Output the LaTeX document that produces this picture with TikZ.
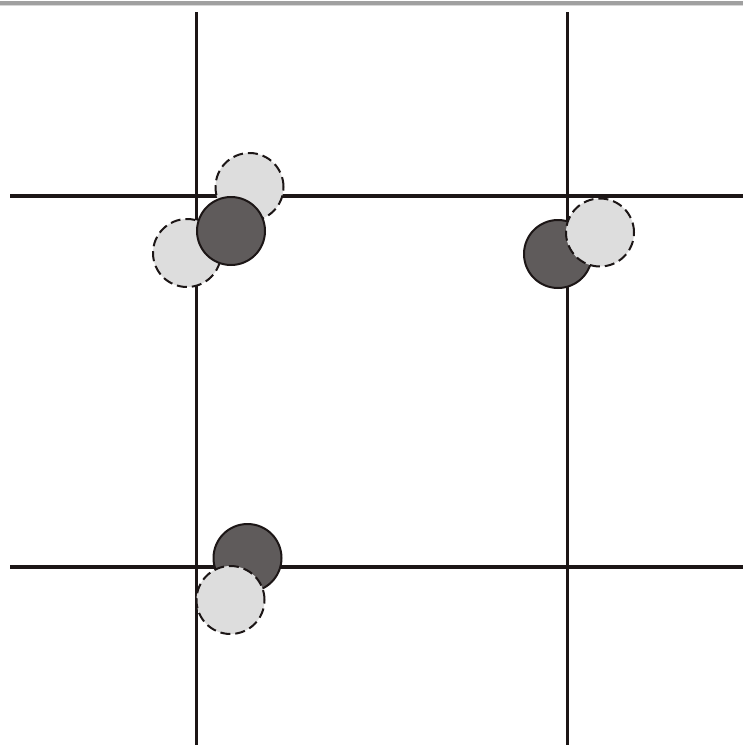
\documentclass[tikz,border=0pt]{standalone}
\definecolor{lineink}{RGB}{28,22,22}
\definecolor{darkfill}{RGB}{95,91,91}
\definecolor{lightfill}{RGB}{221,221,221}
\definecolor{barA}{RGB}{160,160,160}
\definecolor{barB}{RGB}{215,215,215}
\begin{document}
\begin{tikzpicture}[x=1pt,y=-1pt,
  gridline/.style={line width=3.2pt,draw=lineink},
  darkdot/.style={circle,minimum size=68pt,inner sep=0pt,fill=darkfill,draw=lineink,line width=2pt},
  lightdot/.style={circle,minimum size=68pt,inner sep=0pt,fill=lightfill,draw=lineink,line width=2pt,dash pattern=on 10pt off 5pt}]
\useasboundingbox (0,0) rectangle (743,745);
\fill[white] (0,0) rectangle (743,745);
\fill[barA] (0,0.5) rectangle (743,4.8);
\fill[barB] (0,4.8) rectangle (743,6.2);
% grid lines
\coordinate (v1t) at (196.5,12);
\coordinate (v1b) at (196.5,745);
\coordinate (v2t) at (567.5,12);
\coordinate (v2b) at (567.5,745);
\coordinate (h1l) at (10,196);
\coordinate (h1r) at (743,196);
\coordinate (h2l) at (10,567);
\coordinate (h2r) at (743,567);
\draw[gridline] (v1t) -- (v1b);
\draw[gridline] (v2t) -- (v2b);
\draw[gridline] (h1l) -- (h1r);
\draw[gridline] (h2l) -- (h2r);
% top-left group
\node[lightdot] (tlA) at (249.5,187) {};
\node[lightdot] (tlB) at (187,253) {};
\node[darkdot] (tlD) at (231,231) {};
% right group
\node[darkdot] (trD) at (558,254) {};
\node[lightdot] (trA) at (600,232.5) {};
% bottom group
\node[darkdot] (blD) at (247.5,558) {};
\node[lightdot] (blA) at (230.5,600) {};
\end{tikzpicture}
\end{document}
